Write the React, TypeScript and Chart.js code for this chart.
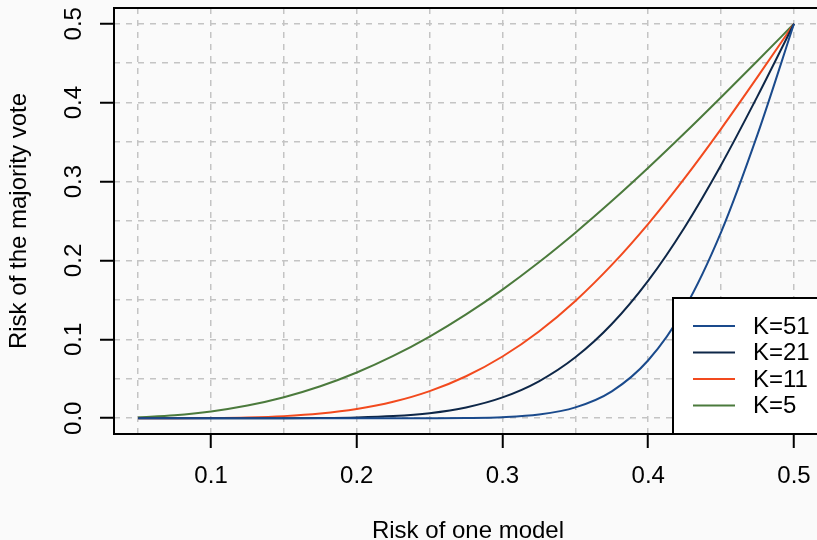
import React, { useEffect, useRef } from 'react';
import { Chart, registerables } from 'chart.js';

Chart.register(...registerables);

// ---- data ----
const riskOfOneModel = [
  0.05, 0.075, 0.1, 0.125, 0.15, 0.175, 0.2, 0.225, 0.25, 0.275,
  0.3, 0.325, 0.35, 0.375, 0.4, 0.425, 0.45, 0.475, 0.5,
];
const riskK51 = [
  0, 0, 0, 0, 0, 0, 0.0000004, 0.0000084, 0.00006, 0.000324,
  0.001364, 0.004739, 0.013763, 0.034134, 0.073522, 0.139509, 0.235958, 0.359776, 0.5,
];
const riskK21 = [
  0, 0.0000001, 0.0000014, 0.0000125, 0.00007, 0.000293, 0.00097, 0.00268, 0.006423, 0.013676,
  0.02639, 0.046806, 0.077182, 0.119356, 0.174377, 0.242132, 0.321002, 0.408252, 0.5,
];
const riskK11 = [
  0.0000058, 0.000059, 0.000296, 0.001003, 0.002657, 0.005927, 0.011654, 0.020792, 0.034327, 0.053206,
  0.078226, 0.109955, 0.148678, 0.194338, 0.246487, 0.304382, 0.36687, 0.432611, 0.5,
];
const riskK5 = [
  0.001158, 0.003759, 0.00856, 0.016052, 0.026611, 0.04051, 0.05792, 0.078925, 0.103516, 0.131619,
  0.16308, 0.19769, 0.235169, 0.275208, 0.31744, 0.361471, 0.406873, 0.453204, 0.5,
];
const seriesLabels = ['K=51', 'K=21', 'K=11', 'K=5'];
const seriesValues = [riskK51, riskK21, riskK11, riskK5];
const seriesColors = ['#1a4a8c', '#0e2748', '#f24a1e', '#4b7a3c'];
const xTickLabels = ['0.1', '0.2', '0.3', '0.4', '0.5'];
const yTickLabels = ['0.0', '0.1', '0.2', '0.3', '0.4', '0.5'];
const xTitle = 'Risk of one model';
const yTitle = 'Risk of the majority vote';

const FONT = '"Liberation Sans", Arial, Helvetica, sans-serif';
const BG = '#fafafa';

const isLabeled = (labels: string[], v: number) =>
  labels.some((l) => Math.abs(parseFloat(l) - v) < 1e-9);

const rPlotPlugin = {
  id: 'rPlot',
  beforeDraw(chart: any) {
    const { ctx, width, height } = chart;
    ctx.save();
    ctx.fillStyle = BG;
    ctx.fillRect(0, 0, width, height);
    ctx.restore();
  },
  afterDraw(chart: any) {
    const { ctx, chartArea } = chart;
    const { left, top, right, bottom } = chartArea;
    const yScale = chart.scales.y;
    ctx.save();
    // box
    ctx.strokeStyle = '#000';
    ctx.lineWidth = 2;
    ctx.strokeRect(left, top, right - left + 8, bottom - top);

    // y tick labels (rotated like R)
    ctx.fillStyle = '#000';
    ctx.font = `24px ${FONT}`;
    ctx.textAlign = 'center';
    ctx.textBaseline = 'alphabetic';
    yTickLabels.forEach((lab) => {
      const py = yScale.getPixelForValue(parseFloat(lab));
      ctx.save();
      ctx.translate(81, py);
      ctx.rotate(-Math.PI / 2);
      ctx.fillText(lab, 0, 0);
      ctx.restore();
    });

    // axis titles
    ctx.fillText(xTitle, (left + right + 5) / 2, 538);
    ctx.save();
    ctx.translate(26, (top + bottom) / 2);
    ctx.rotate(-Math.PI / 2);
    ctx.fillText(yTitle, 0, 0);
    ctx.restore();

    // legend
    const lx = 673;
    const ly = 298;
    ctx.fillStyle = '#ffffff';
    ctx.fillRect(lx, ly, 200, bottom - ly);
    ctx.strokeStyle = '#000';
    ctx.lineWidth = 2;
    ctx.strokeRect(lx, ly, 200, bottom - ly);
    ctx.textAlign = 'left';
    ctx.textBaseline = 'middle';
    seriesLabels.forEach((lab, i) => {
      const cy = 326 + i * 26.5;
      ctx.strokeStyle = seriesColors[i];
      ctx.lineWidth = 2;
      ctx.beginPath();
      ctx.moveTo(693, cy);
      ctx.lineTo(735, cy);
      ctx.stroke();
      ctx.fillStyle = '#000';
      ctx.fillText(lab, 753, cy + 1);
    });
    ctx.restore();
  },
};

export default function App() {
  const canvasRef = useRef<HTMLCanvasElement | null>(null);

  useEffect(() => {
    document.body.style.margin = '0';
    document.body.style.background = BG;
    const canvas = canvasRef.current;
    if (!canvas) return;
    const chart = new Chart(canvas, {
      type: 'line',
      data: {
        datasets: seriesLabels.map((lab, i) => ({
          label: lab,
          data: riskOfOneModel.map((x, j) => ({ x, y: seriesValues[i][j] })),
          borderColor: seriesColors[i],
          backgroundColor: seriesColors[i],
          borderWidth: 2,
          pointRadius: 0,
          fill: false,
          cubicInterpolationMode: 'monotone' as const,
        })),
      },
      options: {
        responsive: false,
        animation: false,
        devicePixelRatio: 1,
        layout: { padding: { top: 8, left: 0, right: 0, bottom: 0 } },
        plugins: {
          legend: { display: false },
          tooltip: { enabled: false },
        },
        scales: {
          x: {
            type: 'linear',
            min: 0.0334,
            max: 0.5158,
            afterFit: (scale: any) => {
              scale.height = 106;
              scale.paddingLeft = 0;
              scale.paddingRight = 0;
            },
            border: { display: false, dash: [6, 6] },
            grid: {
              color: '#c4c4c4',
              lineWidth: 1.5,
              drawTicks: true,
              tickLength: 14,
              tickWidth: 2,
              tickBorderDash: [],
              tickColor: (ctx: any) =>
                ctx.tick && isLabeled(xTickLabels, ctx.tick.value) ? '#000' : 'rgba(0,0,0,0)',
            },
            ticks: {
              stepSize: 0.05,
              includeBounds: false,
              autoSkip: false,
              maxRotation: 0,
              minRotation: 0,
              padding: 16,
              color: '#000',
              font: { family: FONT, size: 24, lineHeight: 1 },
              callback: (v: any) => {
                const s = xTickLabels.find((l) => Math.abs(parseFloat(l) - Number(v)) < 1e-9);
                return s ?? '';
              },
            },
          },
          y: {
            type: 'linear',
            min: -0.02,
            max: 0.52,
            afterFit: (scale: any) => {
              scale.width = 114;
            },
            border: { display: false, dash: [6, 6] },
            grid: {
              color: '#c4c4c4',
              lineWidth: 1.5,
              drawTicks: true,
              tickLength: 14,
              tickWidth: 2,
              tickBorderDash: [],
              tickColor: (ctx: any) =>
                ctx.tick && isLabeled(yTickLabels, ctx.tick.value) ? '#000' : 'rgba(0,0,0,0)',
            },
            ticks: {
              stepSize: 0.05,
              includeBounds: false,
              display: false,
            },
          },
        },
      },
      plugins: [rPlotPlugin],
    });
    return () => chart.destroy();
  }, []);

  return (
    <div style={{ width: 817, height: 540 }}>
      <canvas ref={canvasRef} width={817} height={540} style={{ display: 'block' }} />
    </div>
  );
}
